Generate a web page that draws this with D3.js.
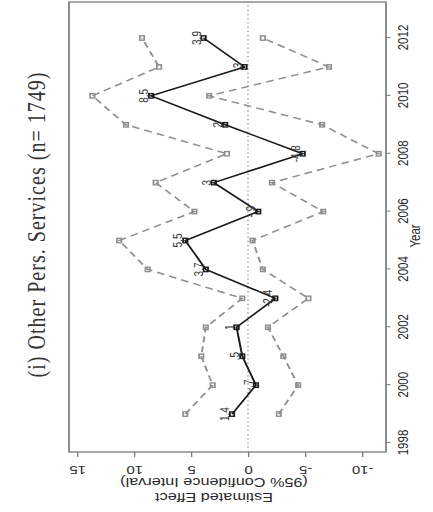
<!DOCTYPE html>
<html><head><meta charset="utf-8">
<script src="https://cdn.jsdelivr.net/npm/d3@7"></script>
<style>body{margin:0;background:#fff}svg{display:block}</style>
</head><body>
<svg id="chart" width="433" height="512"></svg>
<script>
const years = [1999,2000,2001,2002,2003,2004,2005,2006,2007,2008,2009,2010,2011,2012];
const estimate = [1.4,-0.7,0.5,1.0,-2.4,3.7,5.5,-0.9,3.0,-4.8,2.0,8.5,0.3,3.9];
const upper = [5.5,3.1,4.1,3.7,0.5,8.8,11.3,4.7,8.1,1.85,10.7,13.65,7.8,9.3];
const lower = [-2.7,-4.4,-3.1,-1.75,-5.3,-1.3,-0.4,-6.6,-2.1,-11.46,-6.5,3.4,-7.1,-1.3];
const pointLabels = ["1.4","-.7",".5","1","-2.4","3.7","5.5","-.9","3","-4.8","2","8.5",".3","3.9"];
const yearTicks = [1998,2000,2002,2004,2006,2008,2010,2012];
const effectTicks = [-10,-5,0,5,10,15];
const titleText = "(i) Other Pers. Services (n= 1749)";

const k = 1.3; // horizontal stretch of the rotated figure
const svg = d3.select("#chart");
// inner frame: u (horizontal, 0..512) , v (vertical)
const g = svg.append("g").attr("transform", `translate(0,512) scale(${k},1) rotate(-90)`);

const x = d3.scaleLinear().domain([1998, 2012]).range([69, 474]);
const y = d3.scaleLinear().domain([-10, 15]).range([362 / k, 77 / k]);
const box = {u0: 60, u1: 510, v0: 69 / k, v1: 386 / k};

const grey = "#8f8f8f", axisCol = "#7a7a7a", textCol = "#2a2a2a";
const sans = "'Liberation Sans', Arial, Helvetica, sans-serif";

// box
g.append("rect").attr("x", box.u0).attr("y", box.v0)
  .attr("width", box.u1 - box.u0).attr("height", box.v1 - box.v0)
  .attr("fill", "none").attr("stroke", axisCol).attr("stroke-width", 1.3);

// zero line
g.append("line").attr("x1", box.u0).attr("x2", box.u1)
  .attr("y1", y(0)).attr("y2", y(0))
  .attr("stroke", "#9a9a9a").attr("stroke-width", 1.2).attr("stroke-dasharray", "1.2,3");

// year axis (bottom in inner frame)
const xAxis = g.append("g").attr("transform", `translate(0,${box.v1})`)
  .call(d3.axisBottom(x).tickValues(yearTicks).tickFormat(d => String(d)).tickSize(4.5 / k).tickSizeOuter(0));
xAxis.select(".domain").remove();
xAxis.selectAll("line").attr("stroke", axisCol).attr("stroke-width", 1);
xAxis.selectAll("text").attr("y", 13.2).attr("dy", "0.35em")
  .attr("fill", textCol).attr("font-family", sans).attr("font-size", 11.5);

// effect axis (left in inner frame)
const yAxis = g.append("g").attr("transform", `translate(${box.u0},0)`)
  .call(d3.axisLeft(y).tickValues(effectTicks).tickFormat(d => String(d)).tickSize(5).tickSizeOuter(0));
yAxis.select(".domain").remove();
yAxis.selectAll("line").attr("stroke", axisCol).attr("stroke-width", 1);
yAxis.selectAll("text").attr("x", null).attr("dy", null)
  .attr("transform", "translate(-18,0) rotate(-90)")
  .attr("text-anchor", "middle").attr("dominant-baseline", "central")
  .attr("fill", textCol).attr("font-family", sans).attr("font-size", 11.5);

// axis titles
g.append("text").attr("x", 512 - 236).attr("y", 415 / k)
  .attr("text-anchor", "middle").attr("dominant-baseline", "central")
  .attr("fill", textCol).attr("font-family", sans).attr("font-size", 11.5).text("Year");
const ylab = g.append("g").attr("transform", `translate(${512 - 490},${214 / k}) rotate(-90)`);
ylab.append("text").attr("y", -7.5).attr("text-anchor", "middle").attr("dominant-baseline", "central")
  .attr("fill", textCol).attr("font-family", sans).attr("font-size", 12.5).text("Estimated Effect");
ylab.append("text").attr("y", 7.5).attr("text-anchor", "middle").attr("dominant-baseline", "central")
  .attr("fill", textCol).attr("font-family", sans).attr("font-size", 12.5).text("(95% Confidence Interval)");

// title
g.append("text").attr("x", 512 - 225).attr("y", 36 / k)
  .attr("text-anchor", "middle").attr("dominant-baseline", "central")
  .attr("fill", "#333").attr("font-family", "'Liberation Serif', 'DejaVu Serif', serif")
  .attr("font-size", 20).attr("textLength", 305).attr("lengthAdjust", "spacing")
  .text(titleText);

const line = d3.line().x(d => x(d[0])).y(d => y(d[1]));
const sq = 4.4;

function series(vals, color, dash, width) {
  const pts = years.map((yr, i) => [yr, vals[i]]);
  g.append("path").datum(pts).attr("d", line).attr("fill", "none")
    .attr("stroke", color).attr("stroke-width", width).attr("stroke-dasharray", dash);
  g.append("g").selectAll("rect").data(pts).join("rect")
    .attr("x", d => x(d[0]) - sq / 2).attr("y", d => y(d[1]) - sq / k / 2)
    .attr("width", sq).attr("height", sq / k)
    .attr("fill", "none").attr("stroke", color).attr("stroke-width", width * 0.9);
}
series(upper, grey, "6,4", 1.5);
series(lower, grey, "6,4", 1.5);
series(estimate, "#1a1a1a", null, 1.5);

// point labels
g.append("g").selectAll("text").data(years).join("text")
  .attr("x", d => x(d)).attr("y", (d, i) => y(estimate[i]) - 7.5 / k)
  .attr("text-anchor", "middle").attr("dominant-baseline", "central")
  .attr("fill", "#333").attr("font-family", sans).attr("font-size", 10)
  .text((d, i) => pointLabels[i]);
</script>
</body></html>
